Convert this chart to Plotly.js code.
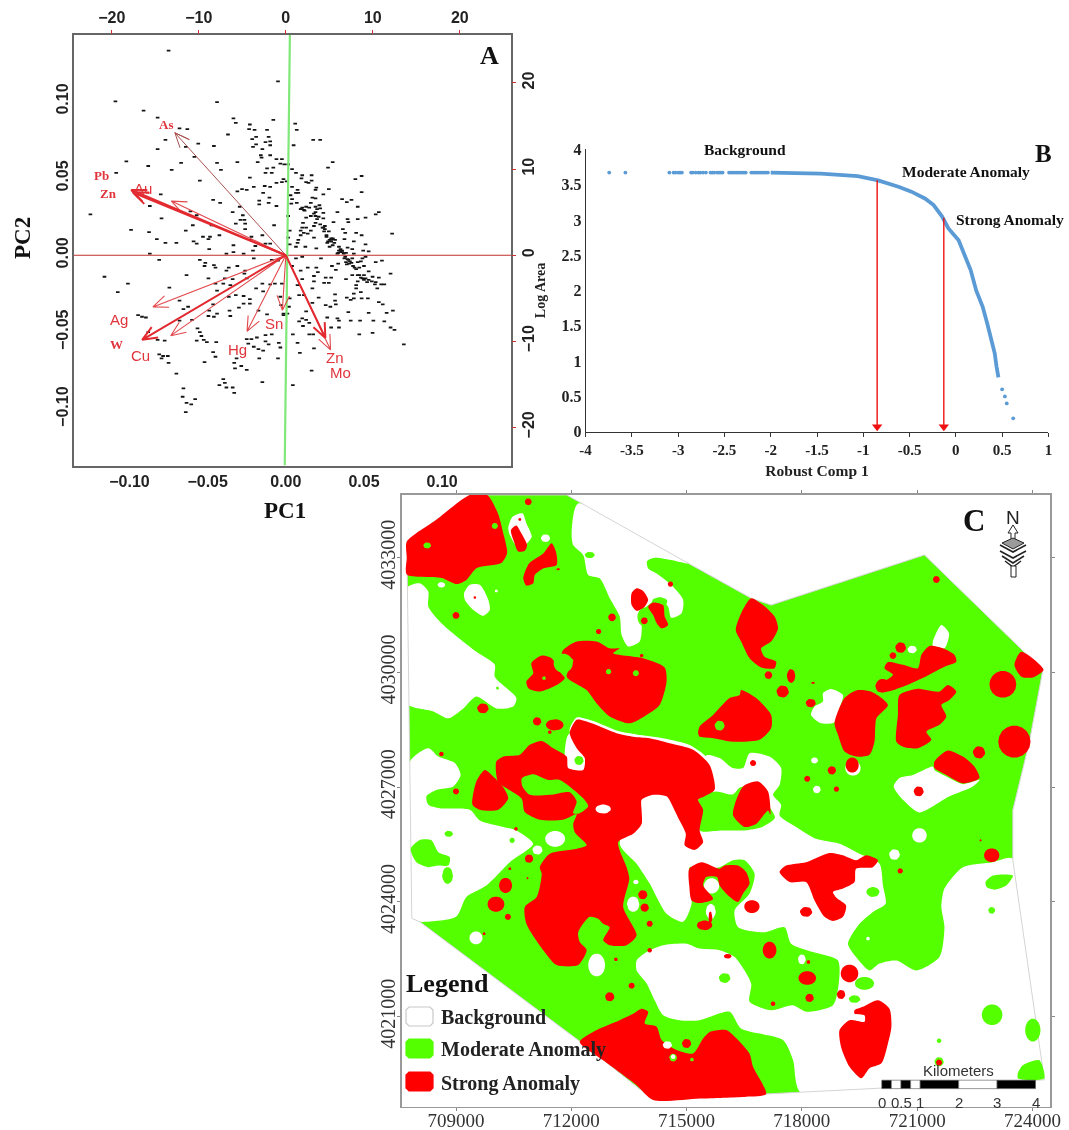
<!DOCTYPE html>
<html><head><meta charset="utf-8">
<script src="https://cdn.plot.ly/plotly-3.0.1.min.js"></script>
<style>html,body{margin:0;padding:0;background:#fff}#g{width:1069px;height:1130px;filter:blur(0.5px)}</style>
</head><body><div id="g"></div>
<script>
// ---------- Panel A: biplot (scores in units of 0.001, as PC1,PC2 pairs)
const pcScoresMilli = [
-75,133,-5,113,-109,100,-44,99.5,-91,94,-82,89.5,-33.5,89,-32,86,-8,88,-23,85,-68,82.5,-63,82,-23.5,82,-20,81.5,-12,81.5,-37,78.5,-19,77,-11,77,-21.5,75.5,-13,73.5,-10,74,-19,72,-21,70.5,-10,71.5,-77,75,-56,72.5,-46,71,-64,70.5,-82,69,-15,69,-16,65,-10,65,-6,62.5,-15.5,63.5,-2.5,62.5,-58.5,64,-102,61,-88,58,-67,60,-44,60,-31,60.5,-18,60.5,-3.5,59.5,-1,59,-73,55.5,-41.5,55.5,-12,56.5,-8,57,-108.5,53.5,-13,53.5,-9,53.5,-23,50.5,-1.5,49.5,-55,48.5,-6,47,-2.5,47.5,-20.5,44.5,-13.5,45,-10,44.5,-28,43,-25,42.5,-31,41.5,-14.5,40.5,-80,39.5,-10.5,37.5,-46.5,36,-42,34,-17,35.5,-11,34,-87,32,-6,32,-29.5,31.5,-17,33,-34,28,-57,26,-27.5,26,-125,26.5,-79.5,24,-29,23,-26.5,23,-59.5,19.5,-32,20.5,-26,20.5,-7.5,19.5,-64,16,-26,17,-99,16.5,-87.5,15,-82.5,10.5,-77,8,-70,8,-59,9,-53,12,-48.5,12,-42.5,13,-22,12,-15,13,-57,7.5,-49,4,-33.5,6.5,-19.5,6,-13,7.5,-10,7.5,-33.5,2,-21,3,-87,1,-38,1,-27,1,-61,28.5,-47.5,19.5,-49.5,10.5,-23,10,
-81,-3,-55,-3,-51.5,-5,-52,-7,-46,-6.5,-45,-8,-36.5,-8,-31,-7,-38,-10,-20.5,-2,-9,-3,-5,-3.5,-26,-10,-26.5,-12,-116,-14,-63.5,-13,-49.5,-15,-34,-15.5,-39,-15,-101,-18.5,-45,-18.5,-40,-18.5,-35.5,-19.5,-25,-15,-74.5,-21,-107.5,-24,-19,-21.5,-15,-18.5,-10,-19,-7,-18.5,-2.5,-18.5,-44,-23,-14.5,-23.5,-36.5,-27,-32,-26,-27,-26.5,-3.5,-27,-68,-29.5,-23,-28.5,-27,-31.5,-23,-31.5,-46.5,-32,-62.5,-33.5,-65.5,-35,-36,-36,-30,-34,-17.5,-36,-49,-36,-12,-38.5,-1.5,-38,-94.5,-39,-89.5,-40.5,-92,-40,-44,-38,-46,-40,-49.5,-39.5,-35.5,-39.5,-68,-42.5,-60,-42,-88,-50,-56.5,-47.5,-55,-50,-54,-52.5,-52.5,-55,-50.5,-56.5,-82,-55,-77.5,-55.5,-44.5,-56.5,-57,-55.5,-9,-51.5,-13,-52,-18.5,-53.5,-25,-54.5,-22,-54.5,-13,-56,-24,-57.5,-11,-58,-4.5,-57,-20.5,-59.5,-17.5,-61,-14.5,-62,-3.5,-60,-81,-64.5,-78.5,-65.5,-75.5,-65.5,-79.5,-67,-75,-70,-46.5,-63,-45,-66,-52,-69.5,-33,-70,-31.5,-67,-28.5,-72,-32.5,-73.5,-25,-74.5,-17,-67,-5,-67,-70,-77,-40,-80.5,-39,-83,-42.5,-84.5,-38,-86,-34,-86,-33,-89.5,-65.5,-86.5,-15,-82.5,-66,-92,-58,-93.5,-63.5,-96,-60.5,-97,-64,-102,-3,-32.5,-1.5,-39,
6,85.5,7,81.5,17.5,75,22,75,5,71.5,30,60.5,27,57,1.5,59,4,56,6.5,53.5,10.5,52,16.5,52,10,50,0.5,48,13,47.5,14.5,47,16.5,48.5,48.5,51.5,44.5,49.5,4,44.5,19.5,44,27.5,43,19,42.5,7.5,42.5,8,40.5,48.5,41,3,39,6.5,40.5,24,39.5,17,37.5,19,37,4,36.5,36,36.5,42,36,39,34.5,7,34,3.5,33.5,16,34,21.5,32.5,13,31.5,19,31.5,46,31.5,10.5,31,11.5,29.5,9.5,30,15,31,22,30.5,33,28,59.5,28,57.5,26.5,24,27.5,1.5,25.5,16,25.5,19,25.5,21,25,13,24.5,20,23.5,24,24,51,24.5,46,23.5,39.5,23.5,19,21,30.5,21.5,40,21.5,11,21,18,19,10.5,18,13,18,23.5,18,25,17,36.5,17,2.5,16,9.5,16,16,16,24.5,15.5,27.5,15.5,38,14.5,45,14.5,68,14,11.5,14.5,14,14,9.5,13,26,13,48.5,13,18,11.5,1.5,11.5,37.5,10.5,43.5,9,30,10.5,31.5,10,8,10,7.5,8,26.5,8,31,8,29,9,51,7,2.5,7,28,5.5,34,5.5,39.5,5,30,6.5,6.5,5.5,12.5,5.5,19.5,4.5,42.5,4,49.5,3,53,2.5,35,4,33.5,1.5,38.5,1.5,36,2,43.5,1,33,1,
6.5,-2,4,-7,10.5,-1,22.5,-2,37.5,-2,39.5,-2.5,42.5,-2,49,-2,51,-1,38.5,-4.5,40.5,-5.5,46,-4.5,48,-4,14,-8,19.5,-8,33.5,-5.5,29.5,-7,32,-9.5,20.5,-11,57.5,-4.5,61.5,-3.5,50,-7,53,-10.5,18,-13.5,9.5,-10,25.5,-14.5,29,-14.5,10.5,-15.5,38.5,-15.5,42.5,-13,46,-13,48,-14.5,50,-16,52,-17.5,55.5,-14,59.5,-14.5,67,-12,18,-17,24.5,-18,27.5,-18,57.5,-17.5,45,-19.5,61,-19,63,-19,58.5,-21.5,7.5,-19.5,17,-21.5,45,-21.5,48,-24,31.5,-25.5,8.5,-26,11.5,-26,21,-27.5,39,-27.5,43.5,-25,43.5,-28,48.5,-28,52.5,-28,2.5,-28,31.5,-29.5,25.5,-32.5,28.5,-33.5,59.5,-30.5,62,-32,32,-32,17,-31,13,-36.5,68.5,-36,40,-37,53,-37.5,64.5,-37.5,2,-33.5,26.5,-40.5,33,-41,10.5,-41,13,-42,8.5,-43,15,-44,34,-42.5,41.5,-42.5,47.5,-42.5,56,-42.5,63,-43,67,-47,69.5,-48.5,34,-47,29,-47,11,-46,47,-51.5,55.5,-50.5,4.5,-51.5,15,-51.5,17.5,-51.5,75.5,-58,7.5,-57,18,-60.5,9,-63.5,16.5,-75,4.5,-84.5,41.5,-29,1,-38,
28,10,29,11,27,9,29,9,30,11,26,12,34,3,36,3,35,2,37,1,38,-1,40,-3,41,-4,39,-6,42,-5,43,-7,44,-8,47,-13,49,-15,50,-13,51,-15,53,-16,55,-17,57,-19,46,-17,45,-9,47,-8,19,28,18,27,20,30,12,29,10,30,22,20,24,18,25,19];

const loadingThickTips = [[-0.0989,0.0424],[-0.0978,0.0407],[-0.0919,-0.055],[0.0253,-0.0538]];
const loadingThinTips  = [[-0.0732,0.0352],[-0.085,-0.0336],[-0.0736,-0.0523],[-0.0248,-0.0495],[-0.0022,-0.0358],[0.0286,-0.0615]];
const loadingAsTip     = [[-0.071,0.0796]];
const sansLabels  = ["Au","Ag","Cu","Sn","Hg","Zn","Mo"];
const sansLabelX  = [-0.0912,-0.1066,-0.0927,-0.0077,-0.0312,0.0314,0.0347];
const sansLabelY  = [0.0437,-0.0418,-0.0653,-0.0446,-0.0611,-0.0665,-0.0765];
const serifLabels = ["As","Pb","Zn","W"];
const serifLabelX = [-0.0765,-0.1176,-0.1132,-0.1081];
const serifLabelY = [0.085,0.0516,0.0402,-0.0578];
const pcTicks = [-0.1,-0.05,0,0.05,0.1];
const pcTickText = ["\u22120.10","\u22120.05","0.00","0.05","0.10"];
const scoreTicks = [-20,-10,0,10,20];
const scoreTickText = ["\u221220","\u221210","0","10","20"];

// ---------- Panel B: concentration-area curve
const sparseComp = [-3.745,-3.57,-3.095,-3.05,-3.03,-3.0,-2.98,-2.96,-2.86,-2.84,-2.81,-2.78,-2.76,-2.73,-2.70,-2.65,-2.63,-2.61,-2.58,-2.56,-2.54,-2.52,-2.45,-2.43,-2.41,-2.39,-2.37,-2.35,-2.33,-2.31,-2.29,-2.27,-2.21,-2.19,-2.17,-2.15,-2.13,-2.11,-2.09,-2.07,-2.05,-2.03,0.5,0.53,0.55,0.62];
const sparseLogArea = [3.67,3.67,3.67,3.67,3.67,3.67,3.67,3.67,3.67,3.67,3.67,3.67,3.67,3.67,3.67,3.67,3.67,3.67,3.67,3.67,3.67,3.67,3.67,3.67,3.67,3.67,3.67,3.67,3.67,3.67,3.67,3.67,3.67,3.67,3.67,3.67,3.67,3.67,3.67,3.67,3.67,3.67,0.6,0.5,0.4,0.19];
const denseComp = [-2.0,-1.46,-1.06,-0.84,-0.62,-0.48,-0.33,-0.24,-0.15,-0.08,0.03,0.09,0.16,0.22,0.29,0.34,0.38,0.42,0.44,0.46];
const denseLogArea = [3.67,3.655,3.62,3.56,3.47,3.40,3.30,3.21,3.05,2.88,2.71,2.52,2.29,2.0,1.77,1.53,1.3,1.11,0.92,0.77];
const thresholdComp = [-0.85,-0.13];
const thresholdLogArea = [3.56,3.03];
const compTicks = [-4,-3.5,-3,-2.5,-2,-1.5,-1,-0.5,0,0.5,1];
const areaTicks = [0,0.5,1,1.5,2,2.5,3,3.5,4];

// ---------- Panel C: map, grid references in km (east of 700000, north of 4000000)
const studyArea = [7.85,23.57,7.72,33.42,9.36,34.64,11.88,34.64,15.05,32.85,16.68,31.94,17.2,31.76,21.19,33.07,24.27,30.06,23.92,28.19,23.49,26.4,23.49,25.09,24.31,19.35,17.98,19.02,14.13,18.83,12.23,20.35,8.06,23.48];
const whiteAreas = [
[12.18,34.42,12.01,33.68,12.05,33.33,12.31,33.07,12.44,32.55,12.74,32.46,13.0,31.94,13.26,31.46,13.31,30.98,13.48,30.68,13.78,30.81,13.83,31.24,13.74,31.46,13.91,31.68,14.3,31.94,14.52,31.72,14.6,31.43,14.87,31.55,14.91,31.9,14.6,32.29,14.22,32.59,14.0,32.72,13.97,32.91,14.17,33.0,14.6,32.94,15.04,32.85],
[7.7,32.2,8.06,32.33,8.28,32.11,8.28,31.72,8.67,31.24,9.53,30.54,10.01,30.2,10.01,29.89,10.57,29.33,10.49,29.11,10.05,29.06,9.53,29.37,9.19,29.06,8.8,28.8,8.41,28.98,7.7,29.2],
[7.8,27.67,8.28,28.02,8.54,27.8,8.97,27.63,9.12,27.32,8.93,27.02,8.5,26.93,8.23,26.76,8.28,26.54,8.58,26.45,9.36,26.41,9.62,26.13,10.23,25.96,10.57,25.87,11.01,25.52,10.4,25.04,9.79,24.43,9.27,24.13,9.0,23.61,8.06,23.48,7.8,23.56],
[13.26,25.52,14.13,27.06,15.43,27.06,15.51,27.83,15.86,27.76,16.2,27.5,16.47,27.5,16.64,27.89,17.16,27.8,17.46,27.5,17.42,27.06,17.25,26.8,17.46,26.54,17.42,26.26,17.85,25.96,18.37,25.65,18.98,25.52,19.5,25.26,20.02,25.0,20.11,24.43,20.18,23.95,19.85,23.74,19.5,23.43,19.2,22.91,19.41,22.56,19.76,22.21,20.02,22.39,20.46,22.47,20.98,22.21,21.58,22.56,21.71,23.34,21.63,23.87,21.71,24.35,22.19,24.91,22.97,25.04,23.49,25.13,24.31,19.34,17.98,19.01,17.77,19.87,17.51,20.39,16.42,20.69,16.12,21.13,15.34,20.91,14.82,20.91,14.39,21.04,14.17,21.43,13.96,21.87,13.7,22.21,13.7,22.47,13.96,22.69,14.39,22.87,15.0,22.91,15.34,22.78,15.86,22.74,16.25,22.56,16.68,21.87,16.64,21.39,17.2,21.17,17.77,21.3,18.11,21.13,18.81,21.3,18.96,21.87,18.94,22.47,18.29,22.69,17.72,22.91,17.55,23.34,17.03,23.21,16.34,23.34,16.25,23.78,16.64,24.22,16.77,24.74,16.51,25.09,16.21,25.09,15.86,24.91,15.34,24.87,15.08,24.91,15.13,23.95,14.91,23.48,14.48,23.69,14.04,24.48,13.7,25.0],
[11.96,28.45,12.14,28.82,12.57,28.73,13.22,28.47,13.7,28.38,14.39,28.28,15.08,28.1,15.64,27.67,15.6,27.54,14.0,27.9],
[11.88,28.28,11.96,28.41,12.18,28.02,12.4,27.71,12.31,27.43,11.92,27.45,11.83,27.84],
[10.36,33.77,10.47,34.07,10.73,34.16,10.83,33.9,10.97,33.55,10.85,33.38,10.66,33.2,10.4,33.59],
[9.21,32.07,9.36,32.29,9.62,32.29,9.84,31.9,9.88,31.63,9.71,31.48,9.4,31.68,9.23,31.9],
[18.55,29.46,18.76,29.57,19.07,29.41,18.98,29.06,18.85,28.7,18.5,28.67,18.24,28.89,18.33,29.11,18.55,29.24],
[21.41,30.81,21.63,31.24,21.83,31.02,21.71,30.63,21.41,30.69],
[20.54,27.24,20.89,27.32,21.41,27.54,21.45,27.45,21.76,27.28,22.19,27.08,22.62,27.19,22.45,27.02,21.84,26.76,21.06,26.34,20.67,26.63,20.39,27.02]];
const whiteSpots = [[8.62,32.29,0.1,0.07],[10.05,32.13,0.04,0.04],[11.33,33.51,0.12,0.1],[20.87,30.6,0.12,0.1],[19.33,27.5,0.2,0.2],[18.33,27.7,0.09,0.08],[18.39,26.94,0.1,0.1],[11.58,25.65,0.26,0.21],[11.12,25.36,0.13,0.12],[13.61,23.94,0.16,0.2],[13.68,24.52,0.07,0.06],[9.52,23.06,0.17,0.17],[12.66,22.35,0.22,0.3],[21.06,25.74,0.19,0.19],[20.41,25.24,0.14,0.14],[19.72,23.04,0.05,0.05],[18.0,22.5,0.1,0.13],[15.65,24.42,0.2,0.2],[15.63,23.75,0.13,0.2]];
const greenAreas = [
[15.34,26.76,15.77,26.89,16.2,26.81,16.4,27.0,16.9,27.0,17.15,26.5,17.3,26.2,16.95,25.95,16.51,25.87,15.9,25.87,15.34,25.87],
[7.82,25.39,8.06,25.62,8.36,25.61,8.54,25.3,8.84,25.17,8.8,24.95,8.54,24.95,8.28,24.91,7.97,25.04],
[22.78,24.52,22.97,24.69,23.49,24.69,23.32,24.43,23.01,24.32,22.81,24.39],
[23.62,19.52,23.75,19.73,24.18,19.86,24.31,19.39,23.88,19.34,23.62,19.39]];
const greenSpots = [[12.48,33.07,0.13,0.08],[13.92,31.45,0.2,0.25],[14.3,31.85,0.2,0.12],[10.08,29.59,0.04,0.04],[8.81,25.78,0.11,0.08],[8.78,24.69,0.14,0.22],[10.46,25.61,0.07,0.07],[15.99,22.01,0.15,0.13],[19.63,21.87,0.25,0.17],[19.37,21.46,0.15,0.1],[19.85,24.26,0.17,0.13],[22.94,23.78,0.09,0.09],[22.95,21.05,0.27,0.27],[24.01,20.65,0.2,0.3],[21.57,20.37,0.06,0.06],[21.57,19.82,0.12,0.12]];
const redAreas = [
[7.72,33.42,8.5,34.0,9.36,34.64,9.81,34.64,10.09,34.16,10.22,33.68,10.33,33.12,10.18,32.86,9.54,32.73,9.27,32.42,9.02,32.31,8.63,32.47,7.72,32.56,7.72,33.0],
[10.43,33.72,10.57,33.84,10.7,33.64,10.85,33.33,10.79,33.18,10.62,33.16,10.51,33.42],
[11.49,33.38,11.6,33.16,11.62,32.81,11.27,32.72,11.05,32.55,11.01,32.33,10.83,32.27,10.75,32.46,10.9,32.85,11.27,33.11],
[13.57,32.07,13.70,32.2,13.87,32.13,14.0,31.9,13.91,31.72,13.70,31.61,13.57,31.76],
[14.0,31.72,14.13,31.83,14.39,31.76,14.43,31.46,14.52,31.24,14.35,31.15,14.22,31.29,14.13,31.5],
[10.96,30.24,11.23,30.44,11.49,30.37,11.7,30.02,11.83,29.85,11.62,29.67,11.18,29.5,10.88,29.59,10.83,29.76,11.01,29.98],
[11.79,30.59,12.14,30.81,12.66,30.81,13.0,30.63,13.26,30.63,13.09,30.5,13.87,30.37,14.43,30.13,14.48,29.76,14.3,29.15,13.96,28.89,13.52,28.67,13.0,28.85,12.66,29.19,12.4,29.54,11.88,29.89,12.05,30.33,11.75,30.46],
[15.3,28.41,15.34,28.59,15.69,28.89,16.12,29.33,16.38,29.41,16.42,29.54,16.81,29.33,17.2,28.89,17.2,28.54,16.9,28.24,16.2,28.19,15.69,28.28,15.34,28.32],
[16.68,31.94,16.99,31.76,17.29,31.46,17.38,31.15,17.2,30.81,16.94,30.63,17.03,30.41,17.33,30.28,17.29,30.11,16.94,30.13,16.64,30.37,16.42,30.81,16.28,31.11,16.42,31.55],
[19.11,29.33,19.41,29.53,19.8,29.5,20.24,29.15,19.94,28.8,19.89,28.19,19.76,27.85,19.41,27.8,19.11,27.93,18.94,28.37,18.85,28.67],
[20.54,29.41,20.98,29.57,21.58,29.5,21.8,29.67,22.02,29.5,21.84,29.28,21.63,29.15,21.76,28.85,21.58,28.63,21.24,28.45,21.37,28.24,21.02,28.02,20.63,28.06,20.46,28.19,20.5,28.89],
[21.11,30.46,21.32,30.69,21.67,30.63,21.97,30.46,22.02,30.28,21.71,30.15,21.2,29.88,20.76,29.68,20.24,29.5,19.98,29.5,19.92,29.67,20.2,29.8,20.37,29.94,20.15,30.11,20.24,30.27,20.63,30.2,21.02,30.11],
[23.71,30.54,24.29,30.07,24.01,29.87,23.71,29.89,23.53,30.2],
[21.45,27.67,21.8,27.96,22.19,27.8,22.49,27.54,22.62,27.24,22.19,27.1,21.76,27.32,21.45,27.5],
[10.05,27.67,10.23,27.8,10.66,27.85,10.92,28.11,11.23,28.21,11.53,28.02,11.88,27.8,11.92,27.5,12.31,27.45,12.35,27.76,12.14,28.02,11.96,28.41,12.14,28.76,12.53,28.67,13.18,28.41,13.61,28.32,14.04,28.28,14.56,28.15,15.17,27.98,15.6,27.58,15.73,26.93,15.47,26.76,15.3,26.67,15.43,26.41,15.34,25.87,15.43,25.56,15.21,25.36,14.95,25.48,14.98,25.78,14.78,26.2,14.69,26.39,14.48,26.76,14.13,26.8,13.83,26.67,13.83,26.39,13.83,26.04,13.61,25.78,13.22,25.56,13.44,24.91,13.51,24.61,13.35,23.87,13.7,23.13,13.44,22.87,13.0,22.87,12.83,23.0,13.0,23.34,12.83,23.43,12.7,23.56,12.48,23.61,12.18,23.21,12.22,22.95,12.4,22.74,12.18,22.35,11.62,22.35,11.27,22.74,10.83,23.43,10.79,23.87,11.1,24.13,11.23,24.74,11.18,24.91,11.44,25.26,12.14,25.39,12.4,25.48,12.09,25.82,12.05,26.04,12.14,26.3,11.79,26.15,11.18,26.15,10.79,26.35,10.71,26.7,10.4,26.92,10.1,27.13,10.04,27.4],
[9.53,27.15,9.75,27.45,10.01,27.24,10.23,27.0,10.36,26.71,10.1,26.41,9.62,26.41,9.43,26.54],
[16.25,26.54,16.47,27.02,16.86,27.15,17.12,26.89,17.18,26.28,17.12,26.39,16.81,26.04,16.51,25.96,16.21,26.26],
[12.22,20.34,12.66,20.65,13.26,20.91,13.61,21.08,13.83,21.21,14.0,21.13,13.91,20.82,14.22,20.74,14.35,20.39,14.74,20.13,15.17,20.04,15.43,20.43,15.6,20.6,16.03,20.65,16.34,20.39,16.64,20.03,16.73,19.69,17.07,18.98,16.55,18.91,15.34,18.86,14.13,18.82,13.7,19.21,12.83,19.86],
[15.07,24.87,15.39,25.04,15.86,24.87,15.99,24.95,16.34,24.95,16.55,24.78,16.64,24.48,16.47,24.22,16.34,24.0,16.08,24.17,15.86,24.43,15.79,24.65,15.51,24.65,15.43,24.43,15.69,24.08,15.34,23.97,15.13,24.04,15.07,24.43],
[17.42,24.78,17.59,24.95,18.11,25.04,18.72,25.28,19.07,25.22,19.41,25.09,19.68,25.22,19.98,25.09,19.85,24.91,19.41,24.87,19.37,24.52,19.07,24.35,18.81,24.26,18.9,24.11,19.15,23.91,19.07,23.61,18.81,23.5,18.59,23.61,18.33,24.04,18.11,24.52,17.68,24.52],
[19.37,21.17,19.59,21.26,19.98,21.43,20.28,21.21,20.33,20.74,20.24,20.3,20.07,19.78,19.76,19.65,19.55,19.39,19.24,19.69,19.02,20.21,18.98,20.65,19.24,20.91,19.63,20.87,19.63,21.04,19.37,21.08]];
const redSpots = [[10.88,34.46,0.09,0.09],[9.49,31.96,0.035,0.035],[9.0,31.49,0.09,0.09],[9.7,29.06,0.15,0.13],[11.11,28.72,0.11,0.11],[11.57,28.63,0.23,0.15],[11.44,28.44,0.05,0.05],[8.62,27.87,0.06,0.06],[9.0,26.89,0.08,0.08],[11.66,32.7,0.05,0.03],[10.66,34.0,0.04,0.04],[14.58,32.31,0.07,0.07],[13.06,31.44,0.1,0.1],[13.9,31.35,0.09,0.09],[12.71,31.07,0.07,0.07],[13.83,30.44,0.05,0.05],[21.5,32.43,0.09,0.09],[17.13,29.93,0.1,0.1],[17.72,29.91,0.11,0.18],[17.5,29.5,0.16,0.16],[18.23,29.2,0.13,0.11],[18.29,29.73,0.05,0.03],[20.57,30.65,0.14,0.14],[20.37,30.44,0.09,0.09],[20.1,29.65,0.18,0.18],[23.23,29.69,0.35,0.35],[23.53,28.19,0.42,0.42],[22.61,27.91,0.16,0.16],[21.04,26.89,0.13,0.13],[19.31,27.58,0.17,0.2],[18.78,27.44,0.11,0.11],[18.14,27.22,0.08,0.08],[18.9,26.95,0.07,0.07],[16.73,27.63,0.08,0.08],[10.56,25.91,0.05,0.05],[10.9,25.13,0.11,0.11],[10.29,24.43,0.17,0.2],[10.04,23.94,0.22,0.2],[10.35,23.61,0.08,0.08],[9.73,23.17,0.04,0.04],[10.4,24.87,0.04,0.04],[10.86,24.62,0.03,0.03],[13.86,24.19,0.12,0.12],[13.91,23.85,0.11,0.11],[14.04,23.43,0.08,0.08],[14.04,22.74,0.06,0.06],[13.16,22.5,0.05,0.05],[13.57,21.81,0.08,0.08],[13.0,21.52,0.12,0.12],[15.0,20.3,0.12,0.12],[15.47,23.39,0.2,0.13],[15.62,23.6,0.05,0.15],[16.7,23.88,0.2,0.17],[18.11,23.74,0.16,0.13],[16.07,22.58,0.1,0.06],[17.16,22.74,0.18,0.22],[18.14,22.01,0.23,0.18],[18.2,21.49,0.11,0.11],[17.25,21.34,0.06,0.06],[18.17,22.43,0.05,0.05],[19.24,22.13,0.23,0.23],[19.02,21.58,0.11,0.12],[22.94,25.22,0.2,0.18],[20.56,24.81,0.07,0.07],[22.65,25.61,0.03,0.03],[21.57,19.8,0.08,0.08]];
const greenOnRedAreas = [[10.71,27.23,11.01,27.34,11.4,27.19,11.7,27.19,12.31,26.71,12.44,26.5,12.22,26.32,12.05,26.32,12.14,26.63,11.96,26.87,11.44,26.8,10.92,26.8,10.73,27.02]];
const greenOnRedSpots = [[8.25,33.32,0.1,0.08],[10.01,33.83,0.08,0.08],[11.29,29.85,0.05,0.05],[11.79,30.24,0.25,0.25],[12.97,30.02,0.07,0.07],[13.68,29.98,0.08,0.08],[15.86,28.61,0.13,0.13],[12.2,27.7,0.12,0.12],[14.65,19.93,0.1,0.1],[15.14,19.88,0.05,0.05]];
const whiteOnRedSpots = [[12.83,26.43,0.2,0.12],[14.5,20.26,0.12,0.1],[14.65,19.95,0.06,0.06]];
const eastTicks = [709000,712000,715000,718000,721000,724000];
const northTicks = [4021000,4024000,4027000,4030000,4033000];
const scaleBarKm = [0,0.25,0.5,0.75,1,2,3,4];
const scaleBarText = ["0","0.5","1","2","3","4"];
const scaleBarTextKm = [0,0.5,1,2,3,4];
const legendNames = ["Background","Moderate Anomaly","Strong Anomaly"];
const MAP_WHITE="#ffffff", MAP_GREEN="#54ff00", MAP_RED="#ff0000";

// ---------- helpers
const W=1069,H=1130, X=p=>p/W, Y=p=>1-p/H;
const SERIF="Liberation Serif, serif", SANS="Liberation Sans, Arial, sans-serif";
const east=k=>700000+k*1000, north=k=>4000000+k*1000;
const traces=[];
function mapFill(xs,ys,color,shape){
  traces.push({type:"scatter",mode:"lines",x:xs,y:ys,xaxis:"x4",yaxis:"y4",fill:"toself",fillcolor:color,
    line:{width:0,color:color,shape:shape||"spline",smoothing:0.7},hoverinfo:"skip",showlegend:false});
}
function ring(a,color,shape){const xs=[],ys=[];for(let i=0;i<a.length;i+=2){xs.push(east(a[i]));ys.push(north(a[i+1]));}
  xs.push(xs[0]);ys.push(ys[0]);mapFill(xs,ys,color,shape);}
function spots(list,color){const xs=[],ys=[];list.forEach(s=>{for(let t=0;t<=18;t++){const a=t/18*2*Math.PI;
    xs.push(east(s[0]+s[2]*Math.cos(a)));ys.push(north(s[1]+s[3]*Math.sin(a)));}xs.push(null);ys.push(null);});
  mapFill(xs,ys,color,"linear");}
function arrows(tips,color,width){const xs=[],ys=[];tips.forEach(t=>{const L=Math.hypot(t[0],t[1]),u=t[0]/L,v=t[1]/L,w=0.0095,s=0.42;
    xs.push(0,t[0],t[0]-w*(u-s*v),t[0],t[0]-w*(u+s*v),null);ys.push(0,t[1],t[1]-w*(v+s*u),t[1],t[1]-w*(v-s*u),null);});
  traces.push({type:"scatter",mode:"lines",x:xs,y:ys,xaxis:"x",yaxis:"y",line:{color:color,width:width},hoverinfo:"skip",showlegend:false});}

// ---------- Panel A traces
const scoreX=[],scoreY=[];for(let i=0;i<pcScoresMilli.length;i+=2){scoreX.push(pcScoresMilli[i]/1000);scoreY.push(pcScoresMilli[i+1]/1000);}
traces.push({type:"scatter",mode:"markers",name:"scores",x:scoreX,y:scoreY,xaxis:"x",yaxis:"y",showlegend:false,
  marker:{symbol:"line-ew",size:2.6,line:{width:1.8,color:"#151515"},color:"#151515"}});
traces.push({type:"scatter",mode:"lines",x:[-0.1355,0.1443],y:[0,0],xaxis:"x",yaxis:"y",line:{color:"#c2302f",width:1.2},hoverinfo:"skip",showlegend:false});
traces.push({type:"scatter",mode:"lines",x:[0.0026,-0.0007],y:[0.1433,-0.1367],xaxis:"x",yaxis:"y",line:{color:"#80e878",width:2.2},hoverinfo:"skip",showlegend:false});
arrows(loadingAsTip,"#a8504e",1);
arrows(loadingThinTips,"#e2484c",1.1);
arrows(loadingThickTips,"#e22a30",2);
traces.push({type:"scatter",mode:"markers",x:[0],y:[0],xaxis:"x2",yaxis:"y2",marker:{opacity:0},hoverinfo:"skip",showlegend:false});

// ---------- Panel B traces
traces.push({type:"scatter",mode:"lines",name:"curve",x:denseComp,y:denseLogArea,xaxis:"x3",yaxis:"y3",line:{color:"#5b9bd5",width:3.8},showlegend:false});
traces.push({type:"scatter",mode:"markers",name:"dots",x:sparseComp,y:sparseLogArea,xaxis:"x3",yaxis:"y3",marker:{color:"#5b9bd5",size:3.8},showlegend:false});
thresholdComp.forEach((c,i)=>{
  traces.push({type:"scatter",mode:"lines",x:[c,c],y:[thresholdLogArea[i],0.06],xaxis:"x3",yaxis:"y3",line:{color:"#f01010",width:1.4},hoverinfo:"skip",showlegend:false});
});
traces.push({type:"scatter",mode:"markers",x:thresholdComp,y:[0.07,0.07],xaxis:"x3",yaxis:"y3",marker:{symbol:"triangle-down",size:9,color:"#f01010"},cliponaxis:false,hoverinfo:"skip",showlegend:false});

// ---------- Panel C traces (painter's order)
ring(studyArea,MAP_GREEN,"linear");
whiteAreas.forEach(a=>ring(a,MAP_WHITE));
spots(whiteSpots,MAP_WHITE);
(function(){const xs=[],ys=[];for(let i=0;i<studyArea.length;i+=2){xs.push(east(studyArea[i]));ys.push(north(studyArea[i+1]));}xs.push(xs[0]);ys.push(ys[0]);
 traces.push({type:"scatter",mode:"lines",x:xs,y:ys,xaxis:"x4",yaxis:"y4",line:{color:"#d4d4d4",width:1},hoverinfo:"skip",showlegend:false});})();
greenAreas.forEach(a=>ring(a,MAP_GREEN));
spots(greenSpots,MAP_GREEN);
redAreas.forEach(a=>ring(a,MAP_RED));
spots(redSpots,MAP_RED);
greenOnRedAreas.forEach(a=>ring(a,MAP_GREEN));
spots(greenOnRedSpots,MAP_GREEN);
spots(whiteOnRedSpots,MAP_WHITE);

// ---------- annotations
const ann=[];
function txt(px,py,text,size,family,color,extra){ann.push(Object.assign({xref:"paper",yref:"paper",x:X(px),y:Y(py),text:text,showarrow:false,xanchor:"center",yanchor:"middle",font:{size:size,family:family,color:color||"#111"}},extra||{}));}
sansLabels.forEach((t,i)=>ann.push({xref:"x",yref:"y",x:sansLabelX[i],y:sansLabelY[i],text:t,showarrow:false,font:{size:15,family:SANS,color:"#e0353c"}}));
serifLabels.forEach((t,i)=>ann.push({xref:"x",yref:"y",x:serifLabelX[i],y:serifLabelY[i],text:"<b>"+t+"</b>",showarrow:false,font:{size:13,family:SERIF,color:"#e0353c"}}));
txt(489,56,"<b>A</b>",26,SERIF);
txt(1043,153,"<b>B</b>",25,SERIF);
txt(285,510,"<b>PC1</b>",23,SERIF);
txt(22,238,"<b>PC2</b>",23,SERIF,"#111",{textangle:-90});
txt(745,150,"<b>Background</b>",15.5,SERIF);
txt(966,172,"<b>Moderate Anomaly</b>",15.5,SERIF);
txt(1010,219,"<b>Strong Anomaly</b>",15.5,SERIF);
txt(974,520,"<b>C</b>",31,SERIF);
txt(1013,517,"N",19,SANS,"#222");
txt(447,983,"<b>Legend</b>",26,SERIF);
legendNames.forEach((n,i)=>txt(439,[1017,1049.5,1083][i],"<b>"+n+"</b>",20,SERIF,"#222",{xanchor:"left"}));
txt(958,1070,"Kilometers",15,SANS,"#333");
scaleBarText.forEach((t,i)=>ann.push({xref:"x4",yref:"paper",x:east(20.08+scaleBarTextKm[i]),y:Y(1102),yanchor:"middle",text:t,showarrow:false,font:{size:15,family:SANS,color:"#333"}}));

// ---------- shapes
function pxPath(points,fill,lineColor,lw){return {type:"path",xref:"paper",yref:"paper",
  path:"M"+points.map(p=>X(p[0])+","+Y(p[1])).join("L")+(fill?"Z":""),fillcolor:fill||"rgba(0,0,0,0)",line:{color:lineColor,width:lw}};}
const shp=[];
[[1007,"#ffffff","#c8c8c8"],[1039,MAP_GREEN,MAP_GREEN],[1072,MAP_RED,MAP_RED]].forEach(r=>{
  const t=r[0],b=t+19,l=406,rr=433,c=3;
  shp.push(pxPath([[l+c,t],[rr-c,t],[rr,t+c],[rr,b-c],[rr-c,b],[l+c,b],[l,b-c],[l,t+c]],r[1],r[2],1.2));
});
for(let i=0;i<scaleBarKm.length-1;i++){
  shp.push({type:"rect",xref:"x4",yref:"y4",x0:east(20.08+scaleBarKm[i]),x1:east(20.08+scaleBarKm[i+1]),y0:north(19.12),y1:north(19.34),
    fillcolor:i%2?"#ffffff":"#000000",line:{color:"#555",width:0.6}});
}
// north arrow
shp.push(pxPath([[1013,525],[1008,533],[1011,533],[1011,541],[1015,541],[1015,533],[1018,533]],"#ffffff","#222",1));
shp.push(pxPath([[1002,543],[1013,538],[1024,543],[1013,549]],"#9a9a9a","#222",1));
shp.push(pxPath([[1000,545],[1013,552],[1026,545]],null,"#222",1.6));
shp.push(pxPath([[1000,551],[1013,558],[1026,551]],null,"#222",1.6));
shp.push(pxPath([[1002,556],[1013,563],[1024,556]],null,"#222",1.6));
shp.push(pxPath([[1005,561],[1013,567],[1021,561]],null,"#222",1.4));
shp.push(pxPath([[1011,566],[1016,566],[1016,577],[1011,577]],"#ffffff","#222",1));

const boldTick={size:16,family:SANS,color:"#222"};
const layout={
  width:W,height:H,margin:{l:0,r:0,t:0,b:0},paper_bgcolor:"#fff",plot_bgcolor:"#fff",showlegend:false,
  font:{family:SERIF},
  xaxis:{domain:[X(74),X(511.4)],range:[-0.1355,0.1443],anchor:"y",showgrid:false,zeroline:false,showline:true,mirror:true,linecolor:"#666",linewidth:2,
    tickmode:"array",tickvals:pcTicks,ticktext:pcTickText.map(t=>"<b>"+t+"</b>"),ticks:"",tickfont:boldTick},
  yaxis:{domain:[Y(465.5),Y(34.8)],range:[-0.1367,0.1433],anchor:"x",showgrid:false,zeroline:false,showline:true,mirror:true,linecolor:"#666",linewidth:2,
    tickmode:"array",tickvals:pcTicks,ticktext:pcTickText.map(t=>"<b>"+t+"</b>"),ticks:"",ticklabelstandoff:-2,tickangle:-90,tickfont:boldTick},
  xaxis2:{overlaying:"x",side:"top",anchor:"y",range:[-24.34,25.93],showgrid:false,zeroline:false,showline:false,
    tickmode:"array",tickvals:scoreTicks,ticktext:scoreTickText.map(t=>"<b>"+t+"</b>"),ticks:"outside",ticklen:4,tickcolor:"#d03030",tickfont:boldTick},
  yaxis2:{overlaying:"y",side:"right",anchor:"x",range:[-24.45,25.6],showgrid:false,zeroline:false,showline:false,
    tickmode:"array",tickvals:scoreTicks,ticktext:scoreTickText.map(t=>"<b>"+t+"</b>"),ticks:"outside",ticklen:4,tickcolor:"#d03030",tickangle:-90,ticklabelstandoff:-2,tickfont:boldTick},
  xaxis3:{domain:[X(585.6),X(1048.4)],range:[-4,1],anchor:"y3",showgrid:false,zeroline:false,showline:true,linecolor:"#333",linewidth:1,
    tickmode:"array",tickvals:compTicks,ticktext:compTicks.map(v=>"<b>"+v+"</b>"),ticks:"outside",ticklen:4,tickcolor:"#333",tickfont:{size:15,family:SERIF,color:"#222"},
    title:{text:"<b>Robust Comp 1</b>",standoff:8,font:{size:15.5,family:SERIF,color:"#222"}}},
  yaxis3:{domain:[Y(431.7),Y(149.3)],range:[0,4],anchor:"x3",showgrid:false,zeroline:false,showline:true,linecolor:"#333",linewidth:1,
    tickmode:"array",tickvals:areaTicks,ticktext:areaTicks.map(v=>"<b>"+v+"</b>"),ticks:"",tickfont:{size:16,family:SERIF,color:"#222"},
    title:{text:"<b>Log Area</b>",standoff:12,font:{size:14,family:SERIF,color:"#222"}}},
  xaxis4:{domain:[X(401.7),X(1050)],range:[707587,724457],anchor:"y4",showgrid:false,zeroline:false,showline:true,mirror:"ticks",linecolor:"#999",linewidth:1.6,
    tickmode:"array",tickvals:eastTicks,ticktext:eastTicks.map(String),ticks:"outside",ticklen:3,tickcolor:"#888",ticklabelstandoff:-7,tickfont:{size:19,family:SERIF,color:"#333"}},
  yaxis4:{domain:[Y(1106.7),Y(495)],range:[4018647,4034639],anchor:"x4",showgrid:false,zeroline:false,showline:true,mirror:"ticks",linecolor:"#999",linewidth:1.6,
    tickmode:"array",tickvals:northTicks,ticktext:northTicks.map(String),ticks:"outside",ticklen:3,tickcolor:"#888",ticklabelstandoff:-6,tickangle:-90,tickfont:{size:20,family:SERIF,color:"#333"}},
  annotations:ann,shapes:shp
};
Plotly.newPlot("g",traces,layout,{displayModeBar:false,staticPlot:true});
</script></body></html>
